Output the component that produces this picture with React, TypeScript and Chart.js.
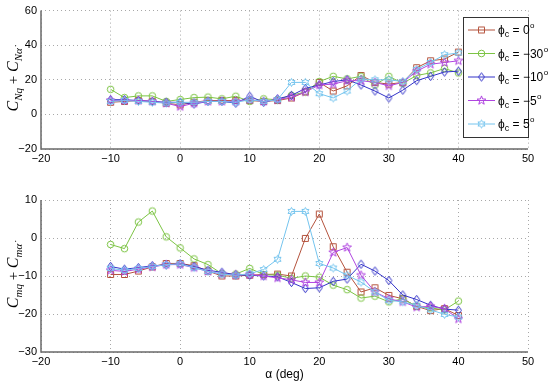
import React, { useEffect, useRef } from "react";
import { Chart, registerables } from "chart.js";
Chart.register(...registerables);

// ---------- data ----------
const alpha = [-10, -8, -6, -4, -2, 0, 2, 4, 6, 8, 10, 12, 14, 16, 18, 20, 22, 24, 26, 28, 30, 32, 34, 36, 38, 40];
const phiLabels = ["0", "\u221230", "\u221210", "\u22125", "5"];

const cnqPhi0 = [7, 7.5, 8, 7.5, 6.5, 5.5, 7, 8, 8, 8, 8, 7.5, 8, 9.5, 13, 18.5, 13.5, 16.5, 22.5, 18.5, 17.5, 18.5, 27, 31, 32, 36];
const cnqPhiM30 = [14.5, 9.7, 10.7, 10.7, 7.5, 8.6, 9.7, 10, 9, 10.5, 7.5, 9, 8.5, 11, 13, 19, 22, 20.5, 22, 17, 22, 18, 22.5, 24, 26.5, 24];
const cnqPhiM10 = [8.5, 8.5, 8, 7.5, 7, 7, 6, 7.5, 7.5, 6.5, 10.5, 7, 9, 11, 15, 17, 19, 20, 17, 13.5, 9.5, 14, 19.5, 22, 24.5, 25];
const cnqPhiM5 = [8, 8, 8, 7.5, 6.5, 4.5, 6.5, 7.5, 7.5, 7.5, 8.5, 7.5, 8.5, 10, 13, 17, 17.5, 19.5, 19.5, 18.5, 16.5, 18.5, 25, 29, 30, 31];
const cnqPhi5 = [7.5, 8, 7.5, 7, 6.5, 7, 7, 7.5, 7.5, 7, 8.5, 7.5, 8.5, 18.5, 18.5, 12, 9.5, 13.5, 20.5, 20, 20, 19, 26, 30, 34.5, 35.5];

const cmqPhi0 = [-9.6, -9.6, -8.7, -7.6, -6.7, -6.7, -7.3, -8.7, -10, -10, -9.8, -9.6, -9.5, -10, -0.1, 6.3, -2.3, -9, -14.2, -13.1, -15.1, -16, -18, -19.1, -18.6, -20.4];
const cmqPhiM30 = [-1.7, -2.8, 4.2, 7.1, 0.3, -2.6, -5.5, -7, -9.4, -9.5, -8, -9.6, -9.8, -10.6, -10, -10.3, -12.4, -13.6, -15.8, -15.3, -16.8, -16, -18, -18.4, -18.9, -16.6];
const cmqPhiM10 = [-7.5, -8.2, -7.8, -7.3, -7.1, -6.8, -7.5, -8.5, -9, -9.7, -9.8, -10, -10.2, -11.7, -13.3, -13.1, -11.4, -10.8, -6.9, -8.7, -11.2, -15, -16.2, -17.7, -18.7, -19];
const cmqPhiM5 = [-8.5, -8.8, -8.2, -7.6, -7, -7, -7.8, -8.8, -9.5, -9.7, -9.6, -10, -10.5, -11, -11.7, -11.7, -3.8, -2.5, -9.8, -14.2, -16, -16.8, -18.2, -18, -18.6, -21.3];
const cmqPhi5 = [-8, -8.5, -8, -7.5, -7, -6.8, -7.8, -8.8, -9.5, -9.8, -9.4, -8.3, -5.6, 7, 7, -6.7, -7.9, -9.8, -11.6, -14.2, -16.4, -16.8, -17.7, -18.9, -20.1, -20.8];

const xTicks = [-20, -10, 0, 10, 20, 30, 40, 50];
const topYTicks = [-20, 0, 20, 40, 60];
const bottomYTicks = [-30, -20, -10, 0, 10];

// ---------- styles ----------
const colors = ["#b4523c", "#7cc444", "#3333c8", "#b045e0", "#74c4ee"];
const shapes = ["square", "circle", "diamond", "pentagram", "hexagram"];
const SANS = "'Liberation Sans', Arial, sans-serif";
const SERIF = "'Liberation Serif', 'DejaVu Serif', serif";

function makeMarker(shape: string, color: string): HTMLCanvasElement {
  const c = document.createElement("canvas");
  const s = 11;
  c.width = s;
  c.height = s;
  const ctx = c.getContext("2d")!;
  const cx = s / 2, cy = s / 2;
  ctx.strokeStyle = color;
  ctx.lineWidth = 1;
  ctx.beginPath();
  if (shape === "square") {
    ctx.rect(cx - 3, cy - 3, 6, 6);
  } else if (shape === "circle") {
    ctx.arc(cx, cy, 3.3, 0, Math.PI * 2);
  } else if (shape === "diamond") {
    ctx.moveTo(cx, cy - 4.2);
    ctx.lineTo(cx + 3, cy);
    ctx.lineTo(cx, cy + 4.2);
    ctx.lineTo(cx - 3, cy);
    ctx.closePath();
  } else {
    const n = shape === "pentagram" ? 5 : 6;
    const ro = shape === "pentagram" ? 4.6 : 4;
    const ri = shape === "pentagram" ? 1.9 : 2.3;
    for (let i = 0; i < n * 2; i++) {
      const r = i % 2 === 0 ? ro : ri;
      const a = -Math.PI / 2 + (i * Math.PI) / n;
      const px = cx + r * Math.cos(a), py = cy + r * Math.sin(a);
      if (i === 0) ctx.moveTo(px, py);
      else ctx.lineTo(px, py);
    }
    ctx.closePath();
  }
  ctx.stroke();
  return c;
}

function minusFmt(v: number | string) {
  return String(v).replace("-", "\u2212");
}

type Piece = { t: string; kind: "main" | "sub" | "plain" };

function yTitlePlugin(pieces: Piece[], xCenter: number) {
  return {
    id: "yTitle",
    afterDraw(chart: any) {
      const ctx = chart.ctx;
      const area = chart.chartArea;
      const yc = (area.top + area.bottom) / 2;
      const fontFor = (k: string) =>
        k === "sub" ? `italic 11px ${SERIF}` : k === "plain" ? `15px ${SERIF}` : `italic 16px ${SERIF}`;
      ctx.save();
      let total = 0;
      const widths = pieces.map((p) => {
        ctx.font = fontFor(p.kind);
        const w = ctx.measureText(p.t).width;
        total += w;
        return w;
      });
      ctx.translate(xCenter, yc);
      ctx.rotate(-Math.PI / 2);
      ctx.fillStyle = "#000";
      ctx.textBaseline = "middle";
      ctx.textAlign = "left";
      let x = -total / 2;
      pieces.forEach((p, i) => {
        ctx.font = fontFor(p.kind);
        ctx.fillText(p.t, x, p.kind === "sub" ? 5 : 0);
        x += widths[i];
      });
      ctx.restore();
    },
  };
}

const axesLinePlugin = {
  id: "axesLines",
  afterDatasetsDraw(chart: any) {
    const ctx = chart.ctx;
    const a = chart.chartArea;
    ctx.save();
    ctx.setLineDash([]);
    ctx.strokeStyle = "#6a6a6a";
    ctx.lineWidth = 1.5;
    ctx.beginPath();
    ctx.moveTo(a.left, a.top);
    ctx.lineTo(a.left, a.bottom);
    ctx.lineTo(a.right, a.bottom);
    ctx.stroke();
    ctx.restore();
  },
};

function legendPlugin(markers: HTMLCanvasElement[]) {
  return {
    id: "customLegend",
    afterDraw(chart: any) {
      const ctx = chart.ctx;
      const bx = 463, by = 17, bw = 65, bh = 120;
      ctx.save();
      ctx.setLineDash([]);
      ctx.fillStyle = "#fff";
      ctx.fillRect(bx, by, bw, bh);
      ctx.strokeStyle = "#333";
      ctx.lineWidth = 1;
      ctx.strokeRect(bx + 0.5, by + 0.5, bw, bh);
      phiLabels.forEach((lab, i) => {
        const y = 30 + i * 23.5;
        ctx.strokeStyle = colors[i];
        ctx.lineWidth = 1;
        ctx.beginPath();
        ctx.moveTo(468, y);
        ctx.lineTo(495, y);
        ctx.stroke();
        const m = markers[i];
        ctx.drawImage(m, 481.5 - m.width / 2, y - m.height / 2);
        ctx.fillStyle = "#000";
        ctx.textBaseline = "alphabetic";
        ctx.textAlign = "left";
        let x = 498;
        const base = y + 4;
        ctx.font = `12px ${SANS}`;
        ctx.fillText("\u03d5", x, base);
        x += ctx.measureText("\u03d5").width;
        ctx.font = `9px ${SANS}`;
        ctx.fillText("c", x, base + 3);
        x += ctx.measureText("c").width;
        ctx.font = `12px ${SANS}`;
        const mid = " = " + lab;
        ctx.fillText(mid, x, base);
        x += ctx.measureText(mid).width + 0.5;
        ctx.font = `8px ${SANS}`;
        ctx.fillText("o", x, base - 6);
      });
      ctx.restore();
    },
  };
}

function buildDatasets(series: number[][], markers: HTMLCanvasElement[]) {
  return series.map((vals, i) => ({
    label: "\u03d5c = " + phiLabels[i],
    data: alpha.map((a, j) => ({ x: a, y: vals[j] })),
    borderColor: colors[i],
    backgroundColor: colors[i],
    borderWidth: 1,
    pointStyle: markers[i],
    pointRadius: 4,
    pointHoverRadius: 4,
    fill: false,
    tension: 0,
    order: 5 - i,
  }));
}

function buildOptions(yMin: number, yMax: number, yTicks: number[], xHeight: number, withTitle: boolean, padTop: number) {
  const gridCfg = {
    color: "#a8a8a8",
    lineWidth: 1,
    drawTicks: false,
  };
  const borderCfg = { display: false, dash: [1, 3] };
  return {
    responsive: false,
    animation: false as const,
    events: [] as any[],
    layout: { padding: { top: padTop, right: 22, left: 0, bottom: 0 } },
    plugins: { legend: { display: false }, tooltip: { enabled: false } },
    scales: {
      x: {
        type: "linear" as const,
        min: -20,
        max: 50,
        afterBuildTicks: (s: any) => {
          s.ticks = xTicks.map((v) => ({ value: v }));
        },
        afterFit: (s: any) => {
          s.height = xHeight;
        },
        grid: { ...gridCfg },
        border: { ...borderCfg },
        ticks: {
          padding: 3,
          color: "#000",
          font: { family: SANS, size: 11 },
          maxRotation: 0,
          callback: (v: number) => minusFmt(v),
        },
        title: {
          display: withTitle,
          text: "\u03b1 (deg)",
          color: "#000",
          font: { family: SANS, size: 12 },
          padding: { top: 0, bottom: 3 },
        },
      },
      y: {
        type: "linear" as const,
        min: yMin,
        max: yMax,
        afterBuildTicks: (s: any) => {
          s.ticks = yTicks.map((v) => ({ value: v }));
        },
        afterFit: (s: any) => {
          s.width = 41;
        },
        grid: { ...gridCfg },
        border: { ...borderCfg },
        ticks: {
          padding: 4,
          color: "#000",
          font: { family: SANS, size: 11 },
          callback: (v: number) => minusFmt(v),
        },
      },
    },
  };
}

export default function App() {
  const topRef = useRef<HTMLCanvasElement>(null);
  const botRef = useRef<HTMLCanvasElement>(null);

  useEffect(() => {
    const markers = shapes.map((s, i) => makeMarker(s, colors[i]));
    const topOpts: any = buildOptions(-20, 60, topYTicks, 23, false, 7);
    const botOpts: any = buildOptions(-30, 10, bottomYTicks, 33, true, 28);

    const top = new Chart(topRef.current!, {
      type: "line",
      data: { datasets: buildDatasets([cnqPhi0, cnqPhiM30, cnqPhiM10, cnqPhiM5, cnqPhi5], markers) as any },
      options: topOpts,
      plugins: [
        axesLinePlugin,
        yTitlePlugin(
          [
            { t: "C", kind: "main" },
            { t: "Nq", kind: "sub" },
            { t: " + ", kind: "plain" },
            { t: "C", kind: "main" },
            { t: "N\u03b1\u0307", kind: "sub" },
          ],
          14
        ),
        legendPlugin(markers),
      ] as any,
    });
    const bot = new Chart(botRef.current!, {
      type: "line",
      data: { datasets: buildDatasets([cmqPhi0, cmqPhiM30, cmqPhiM10, cmqPhiM5, cmqPhi5], markers) as any },
      options: botOpts,
      plugins: [
        axesLinePlugin,
        yTitlePlugin(
          [
            { t: "C", kind: "main" },
            { t: "mq", kind: "sub" },
            { t: " + ", kind: "plain" },
            { t: "C", kind: "main" },
            { t: "m\u03b1\u0307", kind: "sub" },
          ],
          14
        ),
      ] as any,
    });
    return () => {
      top.destroy();
      bot.destroy();
    };
  }, []);

  return (
    <div style={{ position: "fixed", left: 0, top: 0, width: 550, height: 385, background: "#fff" }}>
      <canvas ref={topRef} width={550} height={172} style={{ position: "absolute", left: 0, top: 0 }} />
      <canvas ref={botRef} width={550} height={213} style={{ position: "absolute", left: 0, top: 172 }} />
    </div>
  );
}
